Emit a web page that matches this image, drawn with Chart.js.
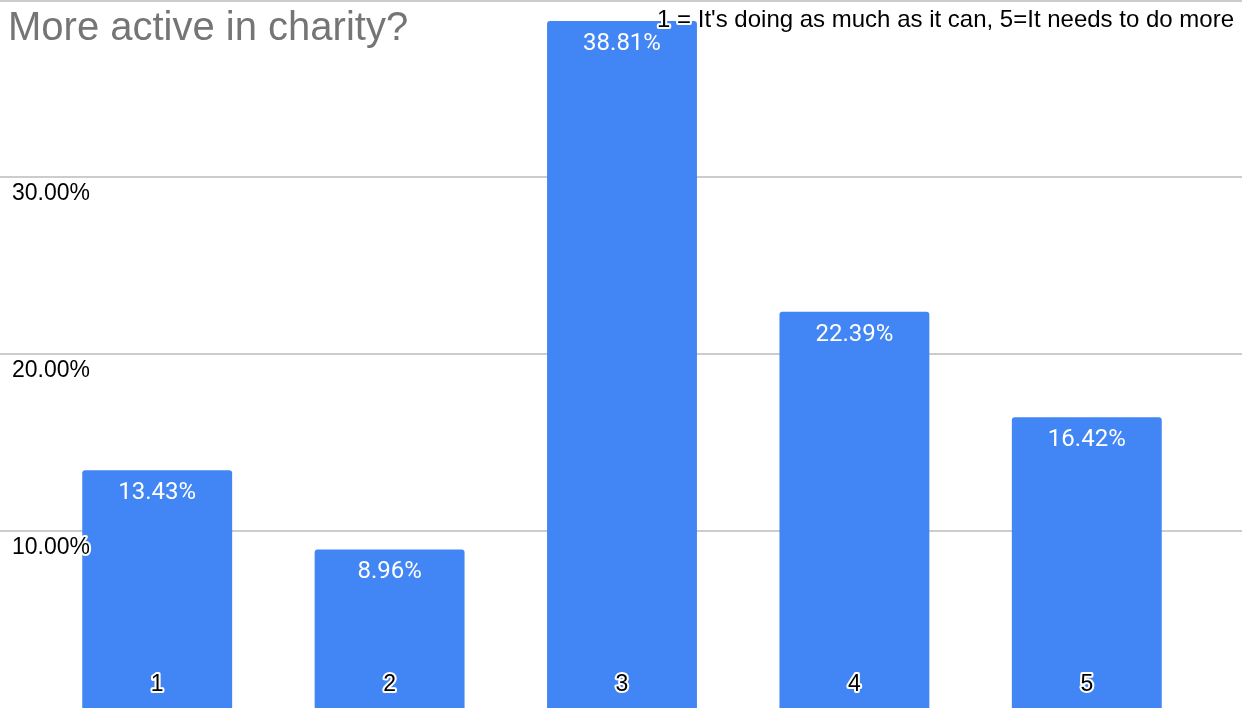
<!DOCTYPE html>
<html>
<head>
<meta charset="utf-8">
<script src="https://cdn.jsdelivr.net/npm/chart.js@4/dist/chart.umd.min.js"></script>
<style>
  html, body { margin: 0; padding: 0; background: #fff; }
  #wrap { width: 1242px; height: 708px; }
</style>
</head>
<body>
<div id="wrap"><canvas id="chart" width="1242" height="708"></canvas></div>
<script>
const title = 'More active in charity?';
const note = "1 = It's doing as much as it can, 5=It needs to do more";
const categories = ['1', '2', '3', '4', '5'];
const shares = [13.43, 8.96, 38.81, 22.39, 16.42];
const yTicks = [10, 20, 30, 40];

const fmt = v => v.toFixed(2) + '%';

function haloText(ctx, text, x, y, color) {
  ctx.lineJoin = 'round';
  ctx.strokeStyle = '#fff';
  ctx.lineWidth = 4;
  ctx.strokeText(text, x, y);
  ctx.fillStyle = color;
  ctx.fillText(text, x, y);
}

// gridlines across the whole width, behind the bars
const gridPlugin = {
  id: 'grid',
  beforeDatasetsDraw(chart) {
    const ctx = chart.ctx, y = chart.scales.y;
    ctx.save();
    ctx.strokeStyle = '#cccccc';
    ctx.lineWidth = 2;
    yTicks.forEach(t => {
      const py = Math.max(1, y.getPixelForValue(t));
      ctx.beginPath();
      ctx.moveTo(0, py);
      ctx.lineTo(chart.width, py);
      ctx.stroke();
    });
    ctx.restore();
  }
};

const labelPlugin = {
  id: 'labels',
  afterDatasetsDraw(chart) {
    const ctx = chart.ctx, y = chart.scales.y;
    const bars = chart.getDatasetMeta(0).data;
    ctx.save();
    // values inside the top of each bar
    ctx.font = '24px Roboto';
    ctx.textAlign = 'center';
    ctx.textBaseline = 'middle';
    ctx.fillStyle = '#fff';
    bars.forEach((b, i) => ctx.fillText(fmt(shares[i]), b.x, b.y + 23));
    // category names at the foot of each bar
    ctx.font = '23px "Liberation Sans", Arial';
    bars.forEach((b, i) => haloText(ctx, categories[i], b.x, 685, '#000'));
    // y tick labels
    ctx.textAlign = 'left';
    ctx.textBaseline = 'alphabetic';
    yTicks.filter(t => t < 40).forEach(t => {
      haloText(ctx, fmt(t), 12, y.getPixelForValue(t) + 23, '#000');
    });
    // title and note
    ctx.font = '40px "Liberation Sans", Arial';
    ctx.fillStyle = '#757575';
    ctx.fillText(title, 8, 40);
    ctx.font = '24px "Liberation Sans", Arial';
    ctx.textAlign = 'right';
    haloText(ctx, note, 1234, 27, '#000');
    ctx.restore();
  }
};

new Chart(document.getElementById('chart'), {
  type: 'bar',
  data: {
    labels: categories,
    datasets: [{
      data: shares,
      backgroundColor: '#4285f4',
      borderRadius: { topLeft: 3, topRight: 3 },
      borderSkipped: 'bottom',
      categoryPercentage: 1,
      barPercentage: 0.645
    }]
  },
  options: {
    responsive: false,
    animation: false,
    devicePixelRatio: 1,
    layout: { padding: { left: 41, right: 39, top: 0, bottom: 0 } },
    plugins: { legend: { display: false }, tooltip: { enabled: false } },
    scales: {
      x: { display: false },
      y: { display: false, min: 0, max: 40 }
    }
  },
  plugins: [gridPlugin, labelPlugin]
});
</script>
</body>
</html>
